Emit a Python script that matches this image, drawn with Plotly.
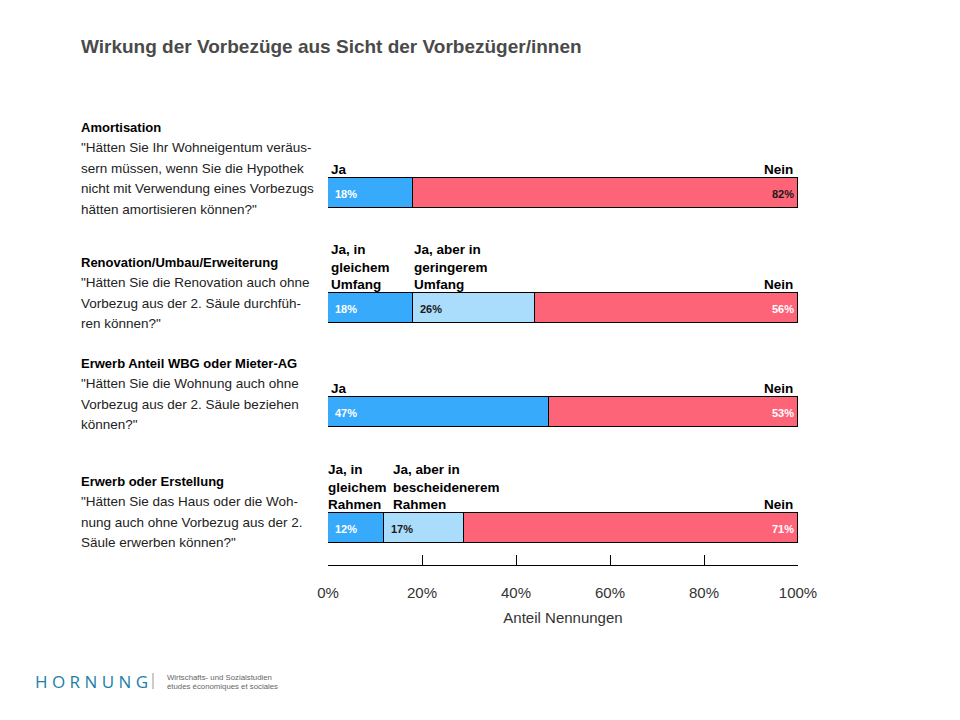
import plotly.graph_objects as go

# ---------------- data ----------------
title_text = "Wirkung der Vorbezüge aus Sicht der Vorbezüger/innen"
question_titles = [
    "Amortisation",
    "Renovation/Umbau/Erweiterung",
    "Erwerb Anteil WBG oder Mieter-AG",
    "Erwerb oder Erstellung",
]
question_lines = [
    ["\"Hätten Sie Ihr Wohneigentum veräus-",
     "sern müssen, wenn Sie die Hypothek",
     "nicht mit Verwendung eines Vorbezugs",
     "hätten amortisieren können?\""],
    ["\"Hätten Sie die Renovation auch ohne",
     "Vorbezug aus der 2. Säule durchfüh-",
     "ren können?\""],
    ["\"Hätten Sie die Wohnung auch ohne",
     "Vorbezug aus der 2. Säule beziehen",
     "können?\""],
    ["\"Hätten Sie das Haus oder die Woh-",
     "nung auch ohne Vorbezug aus der 2.",
     "Säule erwerben können?\""],
]
first_labels = ["Ja", "Ja, in<br>gleichem<br>Umfang", "Ja", "Ja, in<br>gleichem<br>Rahmen"]
second_labels = ["", "Ja, aber in<br>geringerem<br>Umfang", "", "Ja, aber in<br>bescheidenerem<br>Rahmen"]
nein_label = "Nein"
first_values = [18, 18, 47, 12]
second_values = [0, 26, 0, 17]
nein_values = [82, 56, 53, 71]
x_ticks = [0, 20, 40, 60, 80, 100]
x_tick_labels = ["0%", "20%", "40%", "60%", "80%", "100%"]
x_title = "Anteil Nennungen"

# ---------------- layout helpers (reference-pixel coordinates) ----------------
row_y = [193, 308, 412, 528]           # bar centres (pixel-based y axis)
question_y = [127, 262, 363, 481]      # header line of each text block
line_step = 20.6
first_label_shift = [1, 1, 1, -2]
second_label_shift = [0, -1, 0, 7]
PX_L, PX_R, PX_T, PX_B = 328, 798, 100, 565
W, H = 960, 720
PAGE_OFF = 8   # page body margin

def paper_x(px):
    return (px - PX_L) / (PX_R - PX_L)

def paper_y(py):
    return (PX_B - py) / (PX_B - PX_T)

C_JA = "#38aafc"
C_JA2 = "#aadcfb"
C_NEIN = "#fe6478"
FONT = "Liberation Sans"

fig = go.Figure()

common = dict(orientation="h", width=30, marker_line_color="black",
              marker_line_width=1.5, hoverinfo="skip", showlegend=False)

fig.add_trace(go.Bar(x=first_values, y=row_y, marker_color=C_JA, **common))
fig.add_trace(go.Bar(x=second_values, y=row_y, marker_color=C_JA2, **common))
fig.add_trace(go.Bar(x=nein_values, y=row_y, marker_color=C_NEIN, **common))

ann = []
# title
ann.append(dict(text=title_text, xref="paper", yref="paper",
                x=paper_x(81), y=paper_y(47), xanchor="left", yanchor="middle",
                xshift=-2, showarrow=False,
                font=dict(family=FONT, size=19, color="#4a4a4a", weight="bold")))

# question text blocks
for qt, lines, qy in zip(question_titles, question_lines, question_y):
    ann.append(dict(text=qt, xref="paper", yref="y", x=paper_x(81), y=qy,
                    xanchor="left", yanchor="middle", showarrow=False, xshift=-2,
                    font=dict(family=FONT, size=13, color="black", weight="bold")))
    for i, ln in enumerate(lines):
        ann.append(dict(text=ln, xref="paper", yref="y", x=paper_x(81),
                        y=qy + (i + 1) * line_step, xshift=-2,
                        xanchor="left", yanchor="middle", showarrow=False,
                        font=dict(family=FONT, size=13.5, color="#222222")))

# segment labels above bars
lab_font = dict(family=FONT, size=13.5, color="black", weight="bold")
pct_font_w = dict(family=FONT, size=11, color="white", weight="bold")
pct_font_d = dict(family=FONT, size=11, color="#1a1a1a", weight="bold")
nein_pct_dark = [True, False, False, False]
for i, yc in enumerate(row_y):
    top = yc - 15 + 1
    ann.append(dict(text=first_labels[i], xref="x", yref="y", x=0, y=top,
                    xanchor="left", yanchor="bottom", align="left",
                    xshift=first_label_shift[i],
                    showarrow=False, font=lab_font))
    if second_labels[i]:
        ann.append(dict(text=second_labels[i], xref="x", yref="y",
                        x=first_values[i], y=top, xanchor="left", yanchor="bottom",
                        align="left", xshift=second_label_shift[i],
                        showarrow=False, font=lab_font))
    ann.append(dict(text=nein_label, xref="x", yref="y", x=100, y=top,
                    xanchor="right", yanchor="bottom", xshift=-3,
                    showarrow=False, font=lab_font))
    # percentage labels inside bars
    ann.append(dict(text=f"{first_values[i]}%", xref="x", yref="y", x=0, y=yc + 1,
                    xanchor="left", yanchor="middle", xshift=5,
                    showarrow=False, font=pct_font_w))
    if second_values[i]:
        ann.append(dict(text=f"{second_values[i]}%", xref="x", yref="y",
                        x=first_values[i], y=yc + 1,
                        xanchor="left", yanchor="middle", xshift=5,
                        showarrow=False, font=pct_font_d))
    ann.append(dict(text=f"{nein_values[i]}%", xref="x", yref="y",
                    x=first_values[i] + second_values[i] + nein_values[i], y=yc + 1,
                    xanchor="right", yanchor="middle", xshift=-2,
                    showarrow=False,
                    font=pct_font_d if nein_pct_dark[i] else pct_font_w))

# logo
ann.append(dict(text="H O R N U N G", xref="paper", yref="paper",
                x=paper_x(33), y=paper_y(681), xanchor="left", yanchor="middle",
                showarrow=False,
                font=dict(family="Open Sans", size=17, color="#1b7fa8")))
ann.append(dict(text="Wirtschafts- und Sozialstudien", xref="paper", yref="paper",
                x=paper_x(165), y=paper_y(677), xanchor="left", yanchor="middle",
                showarrow=False, font=dict(family=FONT, size=7.8, color="#666666")))
ann.append(dict(text="études économiques et sociales", xref="paper", yref="paper",
                x=paper_x(165), y=paper_y(686), xanchor="left", yanchor="middle",
                showarrow=False, font=dict(family=FONT, size=7.8, color="#666666")))

shapes = [dict(type="line", xref="paper", yref="paper",
               x0=paper_x(153), x1=paper_x(153), y0=paper_y(673), y1=paper_y(689),
               line=dict(color="#999999", width=1))]

fig.update_layout(
    width=W, height=H,
    margin=dict(l=PX_L - PAGE_OFF, r=W - PX_R + PAGE_OFF,
                t=PX_T - PAGE_OFF, b=H - PX_B + PAGE_OFF, pad=0),
    paper_bgcolor="white", plot_bgcolor="white",
    barmode="stack", bargap=0,
    annotations=ann, shapes=shapes,
    xaxis=dict(range=[0, 100], tickvals=x_ticks, ticktext=x_tick_labels,
               showgrid=False, zeroline=False, showline=True,
               linecolor="black", linewidth=1,
               ticks="inside", ticklen=10, tickcolor="black", tickwidth=1,
               ticklabelstandoff=14,
               tickfont=dict(family=FONT, size=15, color="#333333"),
               title=dict(text=x_title, standoff=12,
                          font=dict(family=FONT, size=15, color="#333333")),
               fixedrange=True),
    yaxis=dict(range=[PX_B, PX_T], visible=False, fixedrange=True),
)

fig.write_html("out.html")
